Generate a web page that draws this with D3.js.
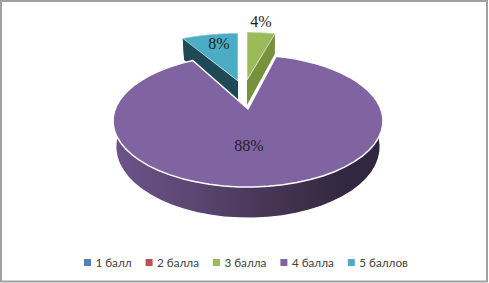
<!DOCTYPE html>
<html>
    <head>
        <meta charset="utf-8">
        <style>
            html, body { margin: 0; padding: 0; background: #fff; }
            svg { display: block; }
        </style>
    </head>
    <body>
        <svg width="489" height="283"></svg>
        <script src="https://d3js.org/d3.v7.min.js"></script>
        <script>
            const categories = ['1 балл', '2 балла', '3 балла', '4 балла', '5 баллов'];
            const values = [0, 0, 4, 88, 8];
            const colors = ['#4F81BD', '#C0504D', '#9BBB59', '#8064A2', '#4BACC6'];
            const wallColors = ['#2c4a6e', '#70302e', '#76923C', '#4e3d66', '#1F4A55'];

            // where each exploded slice has its point, and its label relative to that point
            const apex = [[247, 80], [247, 80], [247, 80], [248, 109], [238, 81]];
            const labelShift = [[0, 0], [0, 0], [14, -58], [1, 37], [-19, -37]];
            // slices pulled towards the back look flatter
            const squash = [1, 1, 0.88, 1, 0.88];

            const svg = d3.select('svg');

            // fake perspective: far side of the disc is squashed compared to the near side,
            // the underside comes out a little narrower than the top
            const persp = 0.18;
            const radiusX = 132.8;
            const radiusY = 64;
            const depth = 25;
            const underside = 0.975;

            const project = (i, angle, r, down) => {
                const c = apex[i];
                const u = Math.sin(angle) * r;
                const v = Math.cos(angle) * r;
                const w = 1 + persp * v;
                const dx = radiusX * u / w;
                return [c[0] + dx * (down ? underside : 1), c[1] - squash[i] * radiusY * v / w + (down ? depth / w : 0)];
            };

            const arcs = d3.pie().sort(null).value(d => d)(values);
            const line = d3.line();

            const steps = (a, b) => d3.range(0, 61).map(i => a + (b - a) * i / 60);

            const defs = svg.append('defs');
            const wallGrad = defs.append('linearGradient')
                .attr('id', 'wall')
                .attr('gradientUnits', 'userSpaceOnUse')
                .attr('x1', 115).attr('x2', 383).attr('y1', 0).attr('y2', 0);
            [[0, '#6c5389'], [0.3, '#5a4672'], [0.6, '#453453'], [0.85, '#322840'], [1, '#2e2640']].forEach(s => {
                wallGrad.append('stop').attr('offset', s[0]).attr('stop-color', s[1]);
            });

            const pie = svg.append('g');
            const order = [2, 4, 3];

            order.forEach(i => {
                const d = arcs[i];
                const g = pie.append('g');

                // cut faces
                [d.startAngle, d.endAngle].forEach(a => {
                    g.append('path')
                        .attr('d', line([project(i, a, 0, false), project(i, a, 1, false), project(i, a, 1, true), project(i, a, 0, true)]) + 'Z')
                        .attr('fill', wallColors[i]);
                });

                // outer rim
                const rim = steps(d.startAngle, d.endAngle);
                g.append('path')
                    .attr('d', line(rim.map(a => project(i, a, 1, false)).concat(rim.slice().reverse().map(a => project(i, a, 1, true)))) + 'Z')
                    .attr('fill', i === 3 ? 'url(#wall)' : wallColors[i]);

                // top of the slice
                g.append('path')
                    .attr('d', line([project(i, d.startAngle, 0, false)].concat(rim.map(a => project(i, a, 1, false)))) + 'Z')
                    .attr('fill', colors[i])
                    .attr('stroke', '#fff')
                    .attr('stroke-width', i === 3 ? 1.5 : 0.6)
                    .attr('stroke-linejoin', 'round');
            });

            // data labels
            svg.append('g').selectAll('text')
                .data(arcs.filter(d => d.value > 0))
                .enter().append('text')
                .attr('x', d => apex[d.index][0] + labelShift[d.index][0])
                .attr('y', d => apex[d.index][1] + labelShift[d.index][1] + 5)
                .attr('text-anchor', 'middle')
                .attr('font-family', '"Liberation Serif", serif')
                .attr('font-size', 16)
                .attr('fill', '#222')
                .text(d => d.value + '%');

            // legend, laid out by measuring the text
            const legend = svg.append('g');
            let x = 84;
            categories.forEach((name, i) => {
                legend.append('rect')
                    .attr('x', x).attr('y', 259)
                    .attr('width', 7).attr('height', 7)
                    .attr('fill', colors[i]);
                const t = legend.append('text')
                    .attr('x', x + 11.5).attr('y', 266.5)
                    .attr('font-family', 'Lato, sans-serif')
                    .attr('font-size', 11.7)
                    .attr('fill', '#404040')
                    .text(name);
                x += 11.5 + t.node().getComputedTextLength() + 14;
            });

            // chart frame
            svg.append('rect')
                .attr('x', 1).attr('y', 1)
                .attr('width', 486).attr('height', 280.5)
                .attr('fill', 'none')
                .attr('stroke', '#a0a0a0')
                .attr('stroke-width', 2);
        </script>
    </body>
</html>
